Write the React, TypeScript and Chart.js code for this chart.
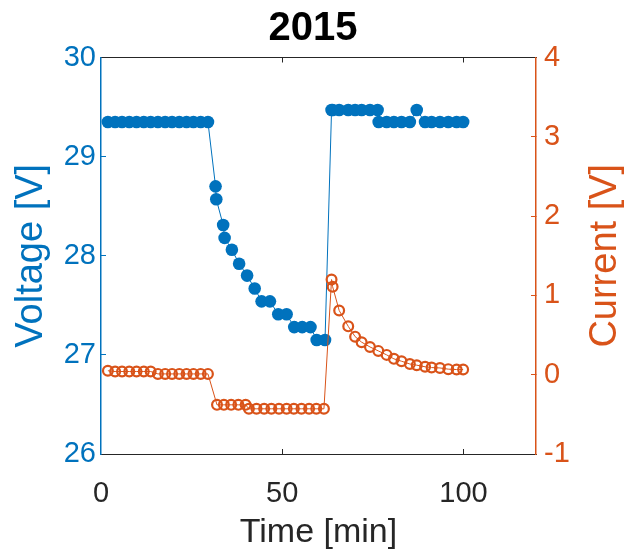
import { useEffect, useRef } from "react";
import { Chart, registerables } from "chart.js";

Chart.register(...registerables);

// Sampled battery test log: voltage (left axis) and current (right axis) vs time
const voltageTime = [
  1.9, 3.9, 5.8, 7.8, 9.8, 11.8, 13.7, 15.7, 17.7, 19.6, 21.6, 23.6, 25.5, 27.5, 29.5,
  31.6, 31.8, 33.7, 34.1, 36.1, 38.1, 40.3, 42.4, 44.3, 46.6, 48.9, 51.2, 53.3, 55.5, 57.8, 59.5, 61.8,
  63.6, 63.9, 65.7, 68.2, 70.1, 71.9, 74.2, 76.3,
  76.6, 78.8, 80.8, 82.9, 85.2, 87.1, 89.4, 91.2, 93.5, 95.8, 98.1, 99.9,
];
const voltageValues = [
  29.35, 29.35, 29.35, 29.35, 29.35, 29.35, 29.35, 29.35, 29.35, 29.35, 29.35, 29.35, 29.35, 29.35, 29.35,
  28.7, 28.57, 28.31, 28.18, 28.06, 27.92, 27.8, 27.67, 27.54, 27.54, 27.41, 27.41, 27.28, 27.28, 27.28, 27.15, 27.15,
  29.47, 29.47, 29.47, 29.47, 29.47, 29.47, 29.47, 29.47,
  29.35, 29.35, 29.35, 29.35, 29.35, 29.47, 29.35, 29.35, 29.35, 29.35, 29.35, 29.35,
];

const currentTime = [
  1.9, 3.9, 5.8, 7.8, 9.8, 11.8, 13.7, 15.7, 17.7, 19.6, 21.6, 23.6, 25.5, 27.5, 29.5,
  32.0, 33.9, 35.9, 37.9, 39.9, 40.8, 42.9, 45.0, 47.0, 49.1, 51.2, 53.2, 55.3, 57.4, 59.4, 61.5,
  63.6, 63.9, 65.7, 68.2, 70.1, 71.9, 74.2, 76.5, 78.8, 80.8, 82.9, 85.2, 87.1, 89.4, 91.2, 93.5, 95.8, 98.1, 99.9,
];
const currentValues = [
  0.05, 0.04, 0.04, 0.04, 0.04, 0.04, 0.04, 0.01, 0.01, 0.01, 0.01, 0.01, 0.01, 0.01, 0.01,
  -0.38, -0.38, -0.38, -0.38, -0.38, -0.43, -0.43, -0.43, -0.43, -0.43, -0.43, -0.43, -0.43, -0.43, -0.43, -0.43,
  1.2, 1.11, 0.81, 0.61, 0.48, 0.41, 0.35, 0.3, 0.25, 0.2, 0.17, 0.135, 0.12, 0.1, 0.09, 0.085, 0.07, 0.065, 0.065,
];

const timeTicks = [0, 50, 100];
const voltageTicks = [26, 27, 28, 29, 30];
const currentTicks = [-1, 0, 1, 2, 3, 4];

const BLUE = "#0072BD";
const ORANGE = "#D95319";
const AXIS_GRAY = "#262626";
const FONT = "'Liberation Sans', Arial, Helvetica, sans-serif";

const toPoints = (xs: number[], ys: number[]) => xs.map((x, i) => ({ x, y: ys[i] }));
const fixedTicks = (values: number[]) => (scale: any) => {
  scale.ticks = values.map((value) => ({ value }));
};

// Axis titles; the right one reads bottom-to-top like the left one
const axisTitles = {
  id: "axisTitles",
  afterDraw(chart: any) {
    const { ctx, chartArea: a } = chart;
    const midY = (a.top + a.bottom) / 2;
    ctx.save();
    ctx.textAlign = "center";
    ctx.textBaseline = "middle";
    ctx.font = `34px ${FONT}`;
    ctx.fillStyle = AXIS_GRAY;
    ctx.fillText("Time [min]", (a.left + a.right) / 2, a.bottom + 79);

    ctx.font = `38px ${FONT}`;
    ctx.fillStyle = BLUE;
    ctx.translate(a.left - 69, midY);
    ctx.rotate(-Math.PI / 2);
    ctx.fillText("Voltage [V]", 0, 0);
    ctx.restore();

    ctx.save();
    ctx.textAlign = "center";
    ctx.textBaseline = "middle";
    ctx.font = `38px ${FONT}`;
    ctx.fillStyle = ORANGE;
    ctx.translate(a.right + 70, midY);
    ctx.rotate(-Math.PI / 2);
    ctx.fillText("Current [V]", 0, 0);
    ctx.restore();
  },
};

const hideAt = (values: number[], color: string) => (c: any) =>
  c.tick && values.includes(c.tick.value) ? "rgba(0,0,0,0)" : color;

export default function App() {
  const canvasRef = useRef<HTMLCanvasElement>(null);

  useEffect(() => {
    const canvas = canvasRef.current;
    if (!canvas) return;
    const chart = new Chart(canvas, {
      type: "line",
      data: {
        datasets: [
          {
            label: "Current",
            data: toPoints(currentTime, currentValues),
            yAxisID: "y1",
            xAxisID: "x",
            borderColor: ORANGE,
            borderWidth: 1,
            pointRadius: 4.9,
            pointBorderWidth: 2.2,
            pointBorderColor: ORANGE,
            pointBackgroundColor: "rgba(0,0,0,0)",
            tension: 0,
            order: 0,
          },
          {
            label: "Voltage",
            data: toPoints(voltageTime, voltageValues),
            yAxisID: "y",
            xAxisID: "x",
            borderColor: BLUE,
            borderWidth: 1,
            pointRadius: 6.3,
            pointBorderWidth: 0,
            pointBackgroundColor: BLUE,
            tension: 0,
            order: 1,
          },
        ],
      },
      options: {
        animation: false,
        responsive: false,
        events: [],
        layout: { padding: 0 },
        plugins: {
          legend: { display: false },
          tooltip: { enabled: false },
          title: {
            display: true,
            text: "2015",
            color: "#000",
            font: { family: FONT, size: 40, weight: "bold" },
            padding: { top: 5, bottom: 4.5 },
          },
        },
        scales: {
          x: {
            type: "linear",
            position: "bottom",
            min: 0,
            max: 120,
            afterBuildTicks: fixedTicks(timeTicks),
            afterFit: (s: any) => {
              s.height = 97;
            },
            border: { color: AXIS_GRAY, width: 1 },
            grid: {
              drawOnChartArea: false,
              tickLength: -5,
              color: hideAt([0, 120], AXIS_GRAY),
            },
            ticks: {
              color: AXIS_GRAY,
              font: { family: FONT, size: 29 },
              padding: 28,
              maxRotation: 0,
            },
          },
          x2: {
            type: "linear",
            position: "top",
            min: 0,
            max: 120,
            afterBuildTicks: fixedTicks(timeTicks),
            afterFit: (s: any) => {
              s.height = 0;
            },
            border: { color: AXIS_GRAY, width: 1 },
            grid: {
              drawOnChartArea: false,
              tickLength: -5,
              color: hideAt([0, 120], AXIS_GRAY),
            },
            ticks: { display: false },
          },
          y: {
            type: "linear",
            position: "left",
            min: 26,
            max: 30,
            afterBuildTicks: fixedTicks(voltageTicks),
            afterFit: (s: any) => {
              s.width = 101;
            },
            border: { color: BLUE, width: 1.5 },
            grid: { drawOnChartArea: false, tickLength: -5, color: BLUE },
            ticks: { color: BLUE, font: { family: FONT, size: 29 }, padding: 10 },
          },
          y1: {
            type: "linear",
            position: "right",
            min: -1,
            max: 4,
            afterBuildTicks: fixedTicks(currentTicks),
            afterFit: (s: any) => {
              s.width = 90;
            },
            border: { color: ORANGE, width: 1.5 },
            grid: { drawOnChartArea: false, tickLength: -5, color: ORANGE },
            ticks: { color: ORANGE, font: { family: FONT, size: 29 }, padding: 13 },
          },
        },
      } as any,
      plugins: [axisTitles],
    });
    return () => chart.destroy();
  }, []);

  return (
    <div style={{ position: "absolute", left: 0, top: 0, width: 626, height: 551, background: "#fff" }}>
      <canvas ref={canvasRef} width={626} height={551} style={{ width: 626, height: 551, display: "block" }} />
    </div>
  );
}
